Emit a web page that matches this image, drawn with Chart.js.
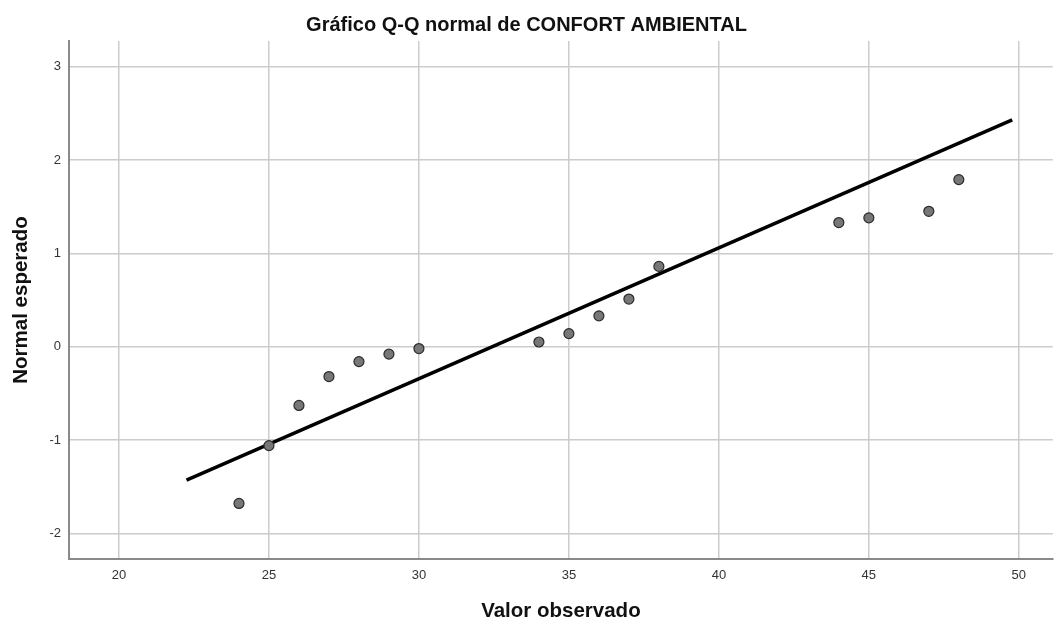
<!DOCTYPE html>
<html>
<head>
<meta charset="utf-8">
<script src="https://cdn.jsdelivr.net/npm/chart.js@4/dist/chart.umd.min.js"></script>
<style>
  body { margin: 0; background: #fff; }
  #wrap { width: 1059px; height: 624px; }
</style>
</head>
<body>
<div id="wrap"><canvas id="qqChart" width="1059" height="624"></canvas></div>
<script>
// observed values and their expected normal quantiles
const observed = [24, 25, 26, 27, 28, 29, 30, 34, 35, 36, 37, 38, 44, 45, 47, 48];
const expected = [-1.68, -1.06, -0.63, -0.32, -0.16, -0.08, -0.02, 0.05, 0.14, 0.33, 0.51, 0.86, 1.33, 1.38, 1.45, 1.79];

// reference line end points
const lineX = [22.25, 49.78];
const lineY = [-1.43, 2.43];

const xTicks = [20, 25, 30, 35, 40, 45, 50];
const yTicks = [-2, -1, 0, 1, 2, 3];

const font = "'Liberation Sans', Arial, sans-serif";

const points = observed.map((x, i) => ({ x: x, y: expected[i] }));
const linePts = lineX.map((x, i) => ({ x: x, y: lineY[i] }));

new Chart(document.getElementById('qqChart').getContext('2d'), {
  type: 'scatter',
  data: {
    datasets: [
      {
        label: 'Observado',
        data: points,
        order: 0,
        pointRadius: 5,
        pointBackgroundColor: '#777777',
        pointBorderColor: '#2b2b2b',
        pointBorderWidth: 1.2
      },
      {
        type: 'line',
        label: 'Recta',
        data: linePts,
        order: 1,
        borderColor: '#000000',
        borderWidth: 3.5,
        pointRadius: 0,
        fill: false
      }
    ]
  },
  options: {
    responsive: false,
    animation: false,
    layout: { padding: { left: 0, right: 6, top: 0, bottom: 0 } },
    plugins: {
      legend: { display: false },
      tooltip: { enabled: false },
      title: {
        display: true,
        text: 'Gráfico Q-Q normal de CONFORT AMBIENTAL',
        color: '#111',
        font: { family: font, size: 20, weight: 'bold', lineHeight: 1.2 },
        padding: { top: 13, bottom: 4 }
      }
    },
    scales: {
      x: {
        type: 'linear',
        min: 18.333,
        max: 51.133,
        afterFit: s => { s.height = 65; },
        afterBuildTicks: s => { s.ticks = xTicks.map(v => ({ value: v })); },
        grid: { color: '#cccccc', lineWidth: 1.5, drawTicks: false },
        border: { display: true, color: '#8a8a8a', width: 2 },
        ticks: { color: '#333', padding: 9, font: { family: font, size: 13 } },
        title: {
          display: true,
          text: 'Valor observado',
          color: '#111',
          font: { family: font, size: 20.5, weight: 'bold', lineHeight: 1.2 },
          padding: { top: 0, bottom: 0 }
        }
      },
      y: {
        type: 'linear',
        min: -2.275,
        max: 3.275,
        afterFit: s => { s.width = 69; },
        afterBuildTicks: s => { s.ticks = yTicks.map(v => ({ value: v })); },
        grid: { color: '#cccccc', lineWidth: 1.5, drawTicks: false },
        border: { display: true, color: '#8a8a8a', width: 2 },
        ticks: { color: '#333', padding: 8, font: { family: font, size: 13 } },
        title: {
          display: true,
          text: 'Normal esperado',
          color: '#111',
          font: { family: font, size: 20.5, weight: 'bold', lineHeight: 1.2 },
          padding: { top: 9, bottom: 0 }
        }
      }
    }
  }
});
</script>
</body>
</html>
